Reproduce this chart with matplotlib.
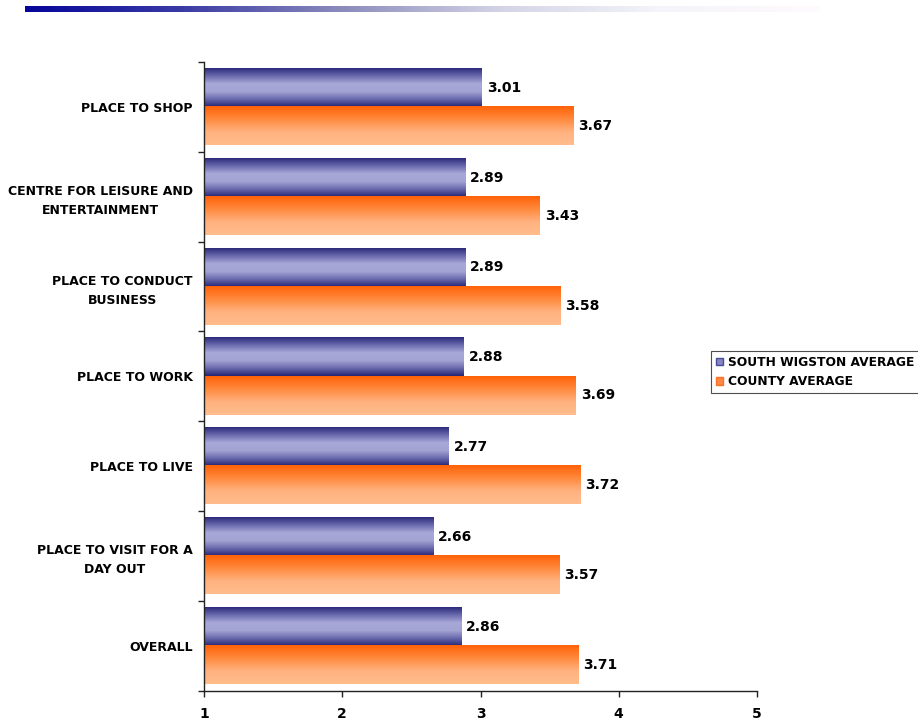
import numpy as np
import matplotlib
matplotlib.use("Agg")
import matplotlib.pyplot as plt
from matplotlib.colors import LinearSegmentedColormap
from matplotlib.patches import Patch

# Datos del grafico
categorias = ["PLACE TO SHOP", "CENTRE FOR LEISURE AND\nENTERTAINMENT",
              "PLACE TO CONDUCT\nBUSINESS", "PLACE TO WORK", "PLACE TO LIVE",
              "PLACE TO VISIT FOR A\nDAY OUT", "OVERALL"]
south_wigston = [3.01, 2.89, 2.89, 2.88, 2.77, 2.66, 2.86]
county = [3.67, 3.43, 3.58, 3.69, 3.72, 3.57, 3.71]
series_names = ["SOUTH WIGSTON AVERAGE", "COUNTY AVERAGE"]
x_ticks = [1, 2, 3, 4, 5]

# Degradados de las barras
cmap_morado = LinearSegmentedColormap.from_list(
    "morado", ["#2c2c7c", "#6a6aae", "#a8a8d8", "#a4a4d4", "#6a6aae", "#262676"])
cmap_naranja = LinearSegmentedColormap.from_list(
    "naranja", ["#ff6208", "#ff8a3e", "#ffb280", "#ffbc8c"])
cmap_linea = LinearSegmentedColormap.from_list(
    "linea", ["#06069a", "#3c3ca6", "#8c8cbc", "#d4d4e6", "#f4f4fa", "#fffafd"])

fig = plt.figure(figsize=(9.18, 7.22), dpi=100)
ax = fig.add_axes([204 / 918, 1 - 690.7 / 722, 553 / 918, 628.7 / 722])

y = np.arange(len(categorias))
h = 0.425

barras_sw = ax.barh(y - h / 2, np.array(south_wigston) - 1, left=1, height=h,
                    color="none", edgecolor="none")
barras_co = ax.barh(y + h / 2, np.array(county) - 1, left=1, height=h,
                    color="none", edgecolor="none")

grad = np.linspace(0, 1, 100).reshape(-1, 1)
for barras, cmap in [(barras_sw, cmap_morado), (barras_co, cmap_naranja)]:
    for b in barras:
        x0, y0 = b.get_x(), b.get_y()
        w, hh = b.get_width(), b.get_height()
        ax.imshow(grad, cmap=cmap, aspect="auto", origin="upper",
                  extent=(x0, x0 + w, y0 + hh, y0), zorder=2,
                  interpolation="bilinear")

# Etiquetas de valores
for barras, vals in [(barras_sw, south_wigston), (barras_co, county)]:
    for b, v in zip(barras, vals):
        ax.annotate(f"{v:.2f}", (b.get_x() + b.get_width(), b.get_y() + b.get_height() / 2),
                    xytext=(3.5, 0), textcoords="offset points", va="center", ha="left",
                    fontsize=10, fontweight="bold", color="#000000")

ax.set_xlim(1, 5)
ax.set_ylim(len(categorias) - 0.5, -0.5)
ax.set_xticks(x_ticks)
ax.set_xticklabels([str(t) for t in x_ticks], fontsize=10, fontweight="bold")
ax.set_yticks(y)
ax.set_yticklabels(categorias, fontsize=9, fontweight="bold")
for lbl in ax.get_yticklabels():
    lbl.set_multialignment("center")
    lbl.set_linespacing(1.55)
ax.set_yticks(np.arange(len(categorias) + 1) - 0.5, minor=True)
ax.tick_params(axis="y", which="major", length=0, pad=8)
ax.tick_params(axis="y", which="minor", length=4, width=1, color="#222222")
ax.tick_params(axis="x", which="major", length=4, width=1, color="#222222", pad=8)

for s in ["top", "right"]:
    ax.spines[s].set_visible(False)
for s in ["left", "bottom"]:
    ax.spines[s].set_color("#222222")
    ax.spines[s].set_linewidth(1)

# Leyenda
handles = [Patch(facecolor="#8686c4", edgecolor="#4a4a96"),
           Patch(facecolor="#ff8a48", edgecolor="#ff7020")]
leg = fig.legend(handles, series_names, loc="upper left",
                 bbox_to_anchor=(711 / 918, 1 - 351 / 722), borderaxespad=0,
                 fancybox=False, frameon=True, edgecolor="#222222",
                 prop={"size": 8.8, "weight": "bold"}, handlelength=0.6,
                 handleheight=0.6, handletextpad=0.4, labelspacing=0.5,
                 borderpad=0.4)
leg.get_frame().set_linewidth(0.8)

# Linea degradada superior
ax_linea = fig.add_axes([25 / 918, 1 - 12 / 722, 795 / 918, 6 / 722])
ax_linea.imshow(np.linspace(0, 1, 200).reshape(1, -1), cmap=cmap_linea, aspect="auto")
ax_linea.axis("off")

fig.savefig("out.png", dpi=100)
